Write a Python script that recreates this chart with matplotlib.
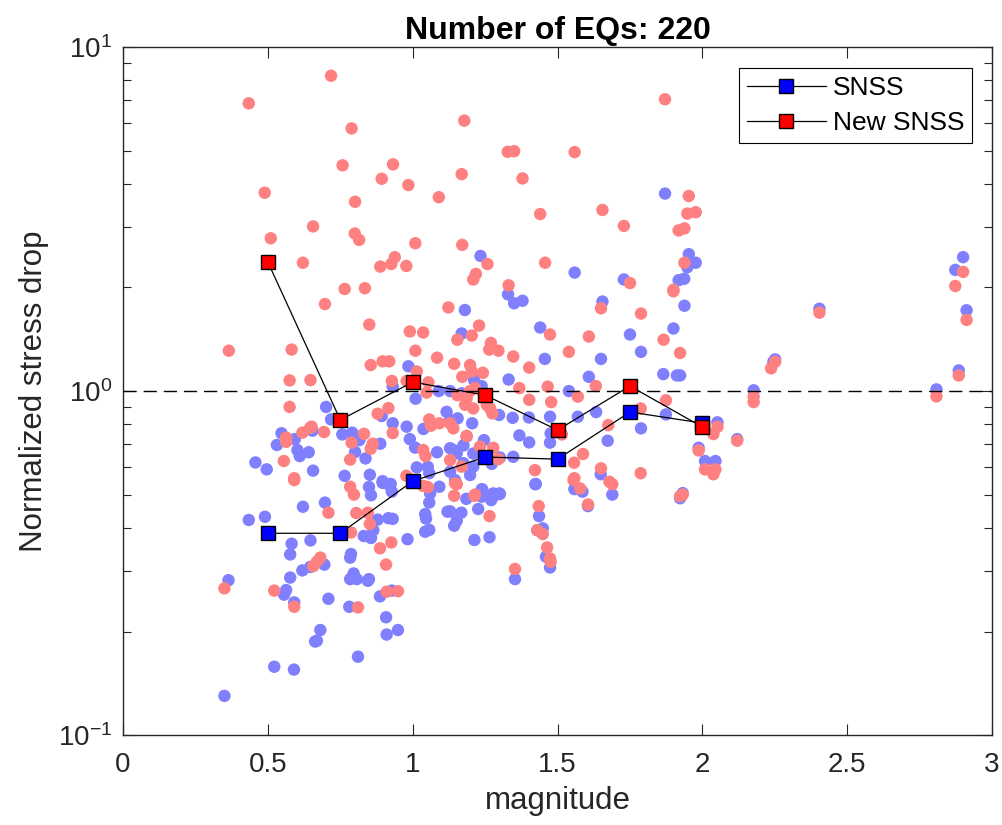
import matplotlib
matplotlib.use("Agg")
import matplotlib.pyplot as plt
import numpy as np
from matplotlib.ticker import LogLocator, NullFormatter

plt.rcParams['font.family'] = ['Liberation Sans', 'DejaVu Sans']
plt.rcParams['mathtext.fontset'] = 'custom'
plt.rcParams['mathtext.rm'] = 'Liberation Sans'

# per-event points (SNSS method, blue)
snss_pts = [
	(1.871, 3.75), (1.234, 2.47), (1.559, 2.21), (1.729, 2.11), (1.953, 2.50), (1.977, 2.36), (1.948, 2.29),
	(1.918, 2.10), (1.937, 2.12), (2.900, 2.45), (2.873, 2.25), (2.912, 1.717), (2.404, 1.735), (2.251, 1.236),
	(2.245, 1.216), (2.885, 1.148), (2.177, 1.005), (2.808, 1.011), (1.938, 1.77), (1.923, 1.11), (2.052, 0.811),
	(2.120, 0.725), (1.987, 0.684), (2.009, 0.626), (2.045, 0.626), (1.932, 0.505), (1.923, 0.488),
	(1.423, 0.536), (1.436, 0.433), (1.430, 0.394), (1.449, 0.399), (1.460, 0.330), (1.474, 0.307), (1.353, 0.284),
	(1.558, 0.519), (1.586, 0.510), (1.605, 0.463), (1.689, 0.500),
	(1.185, 0.486), (1.226, 0.454), (1.240, 0.518), (1.238, 0.493), (1.271, 0.482), (1.281, 0.496), (1.301, 0.502),
	(1.168, 0.443), (1.152, 0.420), (1.143, 0.406), (1.129, 0.447), (1.213, 0.369), (1.265, 0.376),
	(0.350, 0.130), (0.522, 0.158), (0.590, 0.155), (0.811, 0.169), (0.681, 0.202), (0.663, 0.187), (0.669, 0.188),
	(0.908, 0.220), (0.910, 0.196), (0.949, 0.202), (0.781, 0.236), (0.709, 0.249), (0.591, 0.243), (0.364, 0.282),
	(0.563, 0.264), (0.556, 0.256), (0.577, 0.287), (0.619, 0.301), (0.646, 0.308), (0.695, 0.313), (0.577, 0.335),
	(0.582, 0.360), (0.647, 0.368), (0.434, 0.422), (0.490, 0.431), (0.621, 0.461), (0.697, 0.474), (0.787, 0.336),
	(0.784, 0.328), (0.796, 0.295), (0.784, 0.284), (0.807, 0.284), (0.849, 0.284), (0.845, 0.281), (0.887, 0.253),
	(0.928, 0.263), (0.982, 0.371), (0.831, 0.379), (0.856, 0.374), (0.864, 0.394), (0.879, 0.423), (0.916, 0.427),
	(0.931, 0.425), (0.849, 0.526), (0.856, 0.498), (0.896, 0.541), (0.919, 0.533), (0.928, 0.510),
	(1.057, 0.474), (1.043, 0.439), (1.046, 0.426), (1.043, 0.390), (1.057, 0.395), (1.120, 0.446), (1.092, 0.527),
	(1.060, 0.504), (0.985, 1.18), (0.931, 1.03), (1.090, 1.00), (1.010, 0.95), (0.701, 0.899), (0.718, 0.827),
	(0.893, 0.846), (1.117, 0.870), (0.931, 0.806), (0.979, 0.788), (1.037, 0.776), (0.547, 0.754), (0.531, 0.697),
	(0.593, 0.725), (0.654, 0.767), (0.757, 0.748), (0.791, 0.757), (0.811, 0.737), (0.816, 0.720), (0.888, 0.703),
	(0.990, 0.725), (1.008, 0.685), (1.084, 0.664), (0.602, 0.674), (0.610, 0.647), (0.641, 0.664), (0.457, 0.620),
	(0.496, 0.592), (0.656, 0.587), (0.801, 0.665), (0.837, 0.637), (0.765, 0.567), (0.852, 0.571), (0.896, 0.547),
	(0.924, 0.537), (1.014, 0.600), (1.052, 0.602), (1.057, 0.577),
	(1.329, 1.91), (1.350, 1.80), (1.379, 1.83), (1.180, 1.72), (1.655, 1.82), (1.169, 1.47), (1.440, 1.53),
	(1.750, 1.46), (1.900, 1.52), (1.788, 1.30), (1.456, 1.24), (1.650, 1.24), (1.212, 1.076), (1.238, 1.034),
	(1.331, 1.08), (1.608, 1.10), (1.865, 1.12), (1.912, 1.11), (1.539, 1.00), (1.129, 1.00), (1.169, 0.985),
	(1.298, 0.852), (1.155, 0.833), (1.205, 0.806), (1.129, 0.823), (1.345, 0.836), (1.401, 0.838), (1.474, 0.842),
	(1.570, 0.842), (1.633, 0.869), (1.874, 0.855), (1.788, 0.779), (1.368, 0.743), (1.402, 0.709), (1.474, 0.708),
	(1.476, 0.753), (1.673, 0.717), (1.186, 0.737), (1.246, 0.720), (1.175, 0.695), (1.140, 0.674), (1.209, 0.658),
	(1.129, 0.682), (1.273, 0.614), (1.301, 0.641), (1.347, 0.644), (1.152, 0.659), (1.175, 0.617), (1.198, 0.570),
	(1.209, 0.603), (1.146, 0.551), (1.129, 0.583), (1.238, 0.518), (1.278, 0.504), (1.299, 0.504), (1.425, 0.537),
	(1.649, 0.573),
]

# per-event points (New SNSS method, red)
new_pts = [
	(0.718, 8.25), (0.434, 6.86), (0.789, 5.80), (0.758, 4.53), (0.932, 4.56), (0.893, 4.14), (0.985, 3.97),
	(0.489, 3.77), (0.801, 3.55), (1.090, 3.66), (0.656, 3.01), (0.510, 2.78), (0.800, 2.87), (0.815, 2.75),
	(1.009, 2.69), (0.621, 2.36), (0.938, 2.45), (0.926, 2.34), (0.888, 2.30), (0.978, 2.31), (0.765, 1.98),
	(0.835, 1.99), (1.178, 6.11), (1.871, 7.05), (1.328, 4.96), (1.350, 4.98), (1.559, 4.95), (1.169, 4.27),
	(1.379, 4.15), (1.440, 3.27), (1.655, 3.36), (1.729, 3.02), (1.953, 3.69), (1.948, 3.28), (1.977, 3.31),
	(1.918, 2.93), (1.938, 2.97), (1.171, 2.66), (1.258, 2.34), (1.218, 2.19), (1.209, 2.11), (1.457, 2.36),
	(1.331, 2.03), (1.750, 2.06), (1.938, 2.36), (1.900, 1.97),
	(2.900, 2.22), (2.873, 2.02), (2.912, 1.61), (2.404, 1.69), (2.251, 1.216), (2.237, 1.164), (2.885, 1.11),
	(2.177, 0.963), (2.177, 0.929), (2.808, 0.965), (1.923, 1.29), (2.052, 0.787), (2.038, 0.750), (2.120, 0.717),
	(1.987, 0.672), (2.009, 0.592), (2.045, 0.592), (2.038, 0.573), (1.932, 0.500), (1.923, 0.495),
	(1.435, 0.463), (1.430, 0.394), (1.449, 0.384), (1.464, 0.351), (1.474, 0.326), (1.476, 0.319), (1.353, 0.304),
	(1.578, 0.521), (1.605, 0.468), (1.689, 0.536), (1.679, 0.545), (1.555, 0.551), (1.152, 0.536), (1.143, 0.496),
	(1.213, 0.496), (1.265, 0.433),
	(0.811, 0.235), (0.591, 0.236), (0.350, 0.267), (0.522, 0.263), (0.657, 0.310), (0.669, 0.319), (0.681, 0.328),
	(0.910, 0.261), (0.949, 0.262), (0.908, 0.313), (0.887, 0.349), (0.926, 0.363), (0.852, 0.411), (0.805, 0.442),
	(0.845, 0.443), (0.784, 0.527), (0.797, 0.500), (0.591, 0.551), (0.787, 0.388), (1.052, 0.526), (1.036, 0.530),
	(0.709, 0.443),
	(0.697, 1.79), (0.850, 1.56), (0.365, 1.31), (0.582, 1.32), (0.990, 1.49), (1.036, 1.48), (1.009, 1.31),
	(1.084, 1.25), (1.123, 1.75), (0.855, 1.19), (0.896, 1.22), (0.919, 1.22), (1.014, 1.14), (0.575, 1.074),
	(0.647, 1.076), (0.928, 1.07), (0.979, 1.07), (1.054, 1.06), (1.048, 0.99), (0.575, 0.899), (0.916, 0.892),
	(0.879, 0.859), (1.057, 0.827), (1.092, 0.806), (1.063, 0.793), (0.931, 0.755), (0.563, 0.732), (0.563, 0.712),
	(0.619, 0.757), (0.646, 0.782), (0.651, 0.788), (0.694, 0.760), (0.832, 0.751), (0.789, 0.708), (0.862, 0.703),
	(0.855, 0.680), (1.036, 0.674), (1.044, 0.647), (0.555, 0.626), (0.591, 0.558), (0.784, 0.632), (0.978, 0.567),
	(1.650, 1.74), (1.900, 1.95), (1.788, 1.68), (1.154, 1.41), (1.204, 1.45), (1.229, 1.55), (1.474, 1.46),
	(1.608, 1.44), (1.866, 1.41), (1.270, 1.38), (1.264, 1.32), (1.296, 1.31), (1.347, 1.26), (1.539, 1.30),
	(1.143, 1.20), (1.198, 1.19), (1.171, 1.10), (1.204, 1.14), (1.242, 1.13), (1.402, 1.17), (1.368, 1.02),
	(1.466, 1.03), (1.632, 1.034), (1.198, 1.00), (1.215, 1.02), (1.154, 0.973), (1.186, 0.952), (1.181, 0.912),
	(1.209, 0.890), (1.256, 0.911), (1.267, 0.890), (1.275, 0.861), (1.140, 0.779), (1.129, 0.806), (1.402, 0.943),
	(1.478, 0.929), (1.570, 0.963), (1.787, 0.890), (1.874, 0.940), (1.515, 0.748), (1.675, 0.796), (1.186, 0.741),
	(1.232, 0.689), (1.278, 0.684), (1.296, 0.634), (1.169, 0.603), (1.146, 0.539), (1.215, 0.500), (1.129, 0.630),
	(1.422, 0.589), (1.557, 0.619), (1.588, 0.656), (1.558, 0.558), (1.650, 0.596), (1.787, 0.577),
]

# binned values
bin_mag = [0.5, 0.75, 1.0, 1.25, 1.5, 1.75, 2.0]
snss_bin = [0.386, 0.386, 0.547, 0.643, 0.634, 0.869, 0.807]
new_bin = [2.37, 0.824, 1.062, 0.973, 0.770, 1.034, 0.786]

n_eq = 220

snss_mag, snss_sd = np.array(snss_pts).T
new_mag, new_sd = np.array(new_pts).T

fig = plt.figure(figsize=(10.02, 8.25), dpi=100)
ax = fig.add_axes([0.1228, 0.109, 0.8673, 0.834])

ax.scatter(snss_mag, snss_sd, s=80, c='#8080ff', edgecolors='none', zorder=2)
ax.scatter(new_mag, new_sd, s=80, c='#ff8080', edgecolors='none', zorder=2)

ax.axhline(1.0, color='k', lw=1.0, dashes=(9.5, 5), zorder=3)

ax.plot(bin_mag, snss_bin, '-s', color='k', lw=0.9, ms=9.5, mfc='b', mec='k', mew=1.0,
	label='SNSS', zorder=4)
ax.plot(bin_mag, new_bin, '-s', color='k', lw=0.9, ms=9.5, mfc='r', mec='k', mew=1.0,
	label='New SNSS', zorder=5)

ax.set_yscale('log')
ax.set_xlim(0, 3)
ax.set_ylim(0.1, 10)
ax.set_xticks(np.arange(0, 3.01, 0.5), ['0', '0.5', '1', '1.5', '2', '2.5', '3'])
ax.yaxis.set_minor_locator(LogLocator(base=10, subs=np.arange(2, 10)))
ax.yaxis.set_minor_formatter(NullFormatter())

axis_col = '#262626'
for sp in ax.spines.values():
	sp.set_color(axis_col)
	sp.set_linewidth(1.0)
ax.tick_params(which='both', direction='in', top=True, right=True, colors=axis_col,
	labelsize=20, width=0.8)
ax.tick_params(which='major', length=8)
ax.tick_params(axis='x', which='major', pad=12)
ax.tick_params(axis='y', which='major', pad=8)
ax.tick_params(which='minor', length=6)

ax.set_xlabel('magnitude', fontsize=22.5, color=axis_col, labelpad=6)
ax.set_ylabel('Normalized stress drop', fontsize=22.5, color=axis_col, labelpad=6)
ax.set_title(f'Number of EQs: {n_eq}', fontsize=23, fontweight='bold', pad=6)

leg = ax.legend(loc='upper right', bbox_to_anchor=(0.977, 0.969), borderaxespad=0,
	fontsize=19, handlelength=3.0, handletextpad=0.25, labelspacing=0.42,
	fancybox=False, framealpha=1, edgecolor='k', borderpad=0.3)
leg.get_frame().set_linewidth(0.8)

fig.savefig('out.png', dpi=100)
